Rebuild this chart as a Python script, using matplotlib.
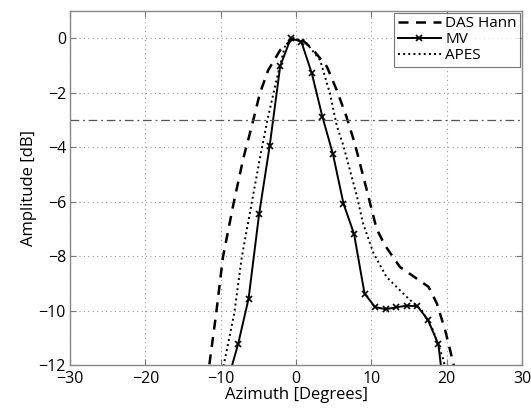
import matplotlib
matplotlib.use("Agg")
import matplotlib.pyplot as plt

plt.rcParams["font.family"] = ["Open Sans", "DejaVu Sans"]

# DAS with Hann window (dashed)
das_az = [-12.0, -11.55, -10.6, -9.7, -8.3, -7.0, -5.9, -4.8, -3.7, -2.1, -0.35,
          1.0, 2.3, 4.1, 5.4, 6.7, 7.8, 9.4, 10.7, 11.8, 13.8, 16.0, 17.6, 18.7, 19.8, 20.9, 21.2]
das_db = [-12.6, -12.07, -10.1, -8.03, -6.07, -4.41, -3.25, -2.02, -1.17, -0.43, 0.0,
          -0.1, -0.43, -1.04, -1.9, -2.88, -3.86, -5.58, -7.0, -7.6, -8.4, -8.82, -9.13, -9.74, -10.72, -11.95, -12.3]

# Minimum variance (solid with x markers)
mv_az = [-9.1, -7.7, -6.3, -4.9, -3.5, -2.1, -0.7, 0.7, 2.1, 3.5, 4.9, 6.3, 7.7,
         9.1, 10.5, 11.9, 13.3, 14.7, 16.1, 17.5, 18.9, 20.3]
mv_db = [-12.6, -11.24, -9.56, -6.45, -3.95, -1.02, 0.0, -0.12, -1.29, -2.88, -4.25, -6.07, -7.18,
         -9.38, -9.87, -9.95, -9.88, -9.82, -9.84, -10.33, -11.24, -14.5]

# APES (dotted)
apes_az = [-10.0, -9.65, -8.2, -7.2, -5.9, -4.8, -3.8, -2.6, -1.5, -0.3, 1.4, 3.2, 4.5,
           5.4, 6.3, 8.1, 8.9, 10.3, 12.0, 14.7, 16.7, 18.2, 19.6, 19.9]
apes_db = [-12.6, -12.07, -10.1, -8.03, -6.07, -4.41, -3.0, -1.53, -0.31, 0.0, -0.18, -0.8, -2.02,
           -3.2, -3.95, -5.82, -6.8, -7.9, -8.76, -9.5, -9.99, -10.72, -11.83, -12.3]

fig = plt.figure(figsize=(5.31, 4.12), dpi=100)
ax = fig.add_axes([0.132, 0.114, 0.851, 0.859])

ax.plot(das_az, das_db, "k--", linewidth=1.8, dashes=(4, 3), label="DAS Hann")
ax.plot(mv_az, mv_db, "k-", linewidth=1.4, marker="x", markersize=4.5,
        markeredgewidth=1.2, label="MV")
ax.plot(apes_az, apes_db, "k:", linewidth=1.4, label="APES")
ax.axhline(-3, color="#555555", linestyle="-.", linewidth=0.9, dashes=(7, 3, 1.5, 3))

ax.set_xlim(-30, 30)
ax.set_ylim(-12, 1)
ax.set_xticks(range(-30, 31, 10))
ax.set_yticks(range(-12, 1, 2))
ax.set_xticklabels(["\u221230", "\u221220", "\u221210", "0", "10", "20", "30"])
ax.set_yticklabels(["\u221212", "\u221210", "\u22128", "\u22126", "\u22124", "\u22122", "0"])
ax.grid(True, linestyle=(0, (1, 3)), color="#999999", linewidth=0.8)
ax.tick_params(direction="in", length=4, color="#777777", labelsize=11.5, top=True, right=True,
               labeltop=False, labelright=False)
ax.tick_params(axis="x", pad=4)
ax.tick_params(axis="y", pad=3)
for s in ax.spines.values():
    s.set_color("#888888")
    s.set_linewidth(1.0)

ax.set_xlabel("Azimuth [Degrees]", fontsize=12, labelpad=0)
ax.set_ylabel("Amplitude [dB]", fontsize=12, labelpad=1)

leg = ax.legend(loc="upper right", fontsize=11, frameon=True, fancybox=False,
                borderaxespad=0.1, handlelength=2.8, labelspacing=0.05, borderpad=0.25,
                handletextpad=0.3)
leg.get_frame().set_edgecolor("#555555")
leg.get_frame().set_linewidth(0.8)

fig.savefig("out.png", dpi=100)
